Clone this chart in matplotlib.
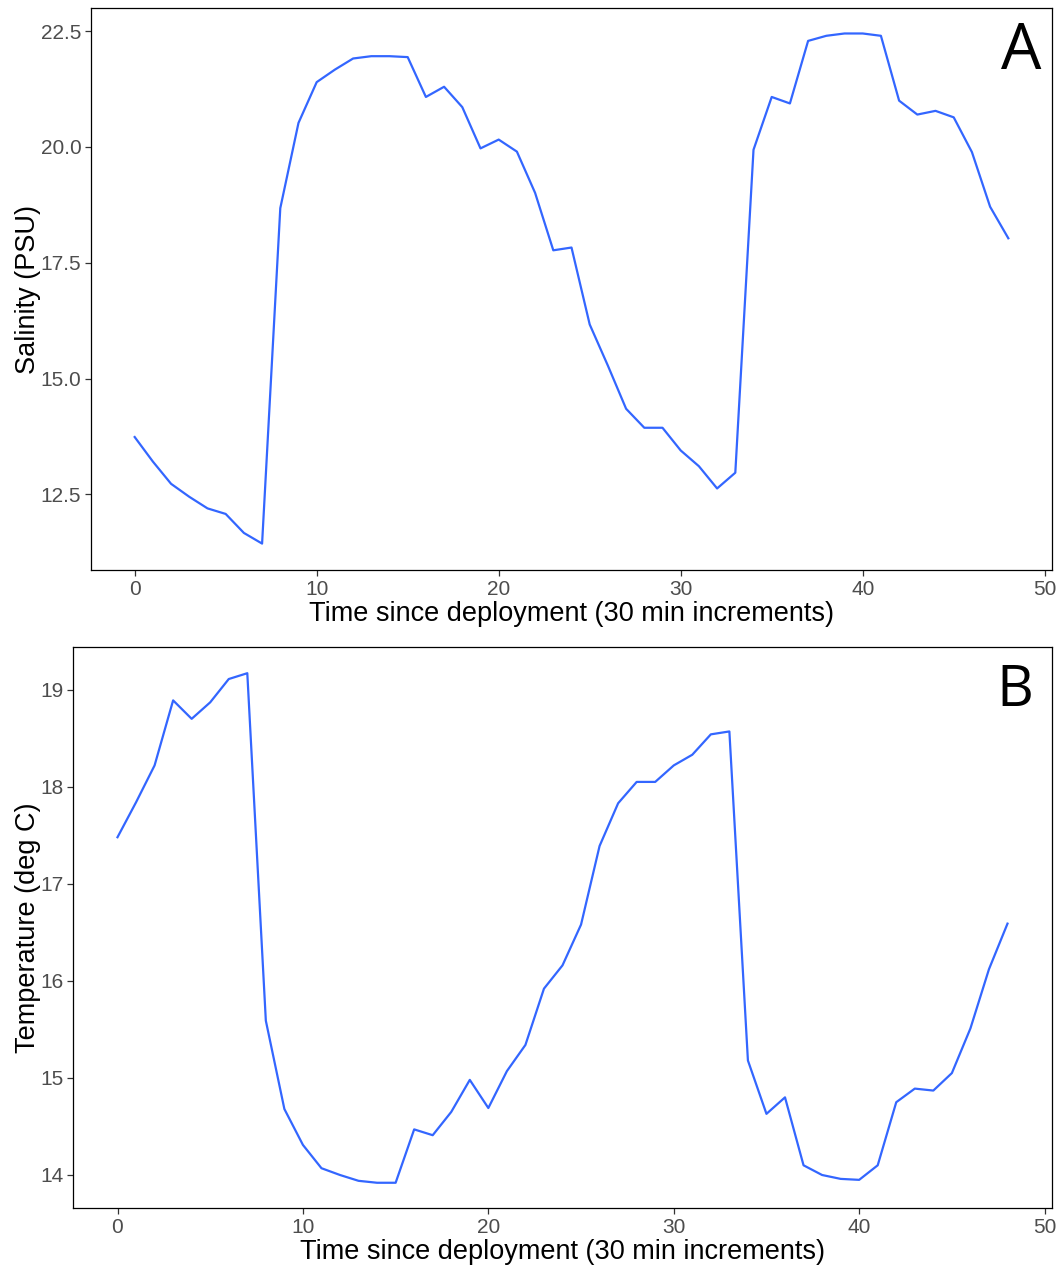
import matplotlib
matplotlib.use("Agg")
import matplotlib.pyplot as plt

# Half-hourly readings since deployment
time_steps = list(range(49))

salinity_psu = [
    13.74, 13.21, 12.73, 12.45, 12.20, 12.08, 11.67, 11.44, 18.68, 20.52,
    21.40, 21.67, 21.91, 21.96, 21.96, 21.94, 21.08, 21.30, 20.86, 19.97,
    20.16, 19.90, 19.01, 17.77, 17.83, 16.17, 15.28, 14.35, 13.94, 13.94,
    13.45, 13.11, 12.63, 12.97, 19.94, 21.08, 20.94, 22.29, 22.40, 22.45,
    22.45, 22.40, 21.00, 20.70, 20.78, 20.64, 19.89, 18.71, 18.03,
]

temperature_c = [
    17.48, 17.84, 18.22, 18.89, 18.70, 18.87, 19.11, 19.17, 15.59, 14.68,
    14.31, 14.07, 14.00, 13.94, 13.92, 13.92, 14.47, 14.41, 14.65, 14.98,
    14.69, 15.07, 15.34, 15.92, 16.16, 16.58, 17.39, 17.83, 18.05, 18.05,
    18.22, 18.33, 18.54, 18.57, 15.18, 14.63, 14.80, 14.10, 14.00, 13.96,
    13.95, 14.10, 14.75, 14.89, 14.87, 15.05, 15.51, 16.12, 16.59,
]

x_ticks = [0, 10, 20, 30, 40, 50]
salinity_ticks = [12.5, 15.0, 17.5, 20.0, 22.5]
temperature_ticks = [14, 15, 16, 17, 18, 19]

x_label = "Time since deployment (30 min increments)"
salinity_label = "Salinity (PSU)"
temperature_label = "Temperature (deg C)"

LINE_COLOR = "#3366FF"
TICK_GRAY = "#4D4D4D"

plt.rcParams["font.family"] = ["Liberation Sans", "DejaVu Sans"]

W, H = 1060, 1265
fig = plt.figure(figsize=(W / 100, H / 100), dpi=100)


def px_axes(left, top, right, bottom):
    return fig.add_axes([left / W, 1 - bottom / H, (right - left) / W, (bottom - top) / H])


def style(ax, yticks, yfmt):
    ax.set_xlim(-2.4, 50.4)
    ax.set_xticks(x_ticks)
    ax.set_yticks(yticks)
    ax.set_yticklabels([yfmt.format(v) for v in yticks])
    for s in ax.spines.values():
        s.set_color("black")
        s.set_linewidth(0.9)
    ax.tick_params(axis="both", direction="out", length=4, width=0.9,
                   color="#333333", labelcolor=TICK_GRAY, labelsize=15, pad=3)
    ax.set_xlabel(x_label, fontsize=19.5, labelpad=1.5)


ax_a = px_axes(91, 8, 1052, 570)
ax_a.plot(time_steps, salinity_psu, color=LINE_COLOR, linewidth=1.6)
ax_a.set_ylim(10.87, 23.0)
style(ax_a, salinity_ticks, "{:.1f}")
ax_a.set_ylabel(salinity_label, fontsize=19.5, labelpad=-0.5)
ax_a.text(0.9886, 0.978, "A", transform=ax_a.transAxes, ha="right", va="top",
          fontsize=46, family=["Open Sans", "DejaVu Sans"])

ax_b = px_axes(73, 647, 1052, 1208)
ax_b.plot(time_steps, temperature_c, color=LINE_COLOR, linewidth=1.6)
ax_b.set_ylim(13.66, 19.44)
style(ax_b, temperature_ticks, "{:d}")
ax_b.set_ylabel(temperature_label, fontsize=19.5, labelpad=-0.5)
ax_b.text(0.9806, 0.972, "B", transform=ax_b.transAxes, ha="right", va="top",
          fontsize=41, family=["Open Sans", "DejaVu Sans"])

fig.savefig("out.png", dpi=100, facecolor="white")
